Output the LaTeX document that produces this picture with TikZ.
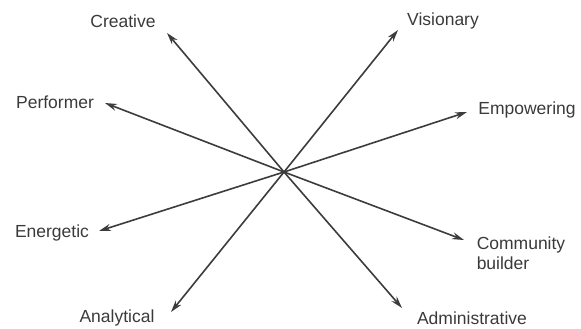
\documentclass[tikz,border=0pt]{standalone}
\usepackage{fontspec}
\setmainfont{Liberation Sans}
\usetikzlibrary{arrows.meta}

\begin{document}
\begin{tikzpicture}[
    x=1pt, y=-1pt,
    every node/.style={align=left, font=\fontsize{17.5}{20}\selectfont, text=labelcolor},
]

% Colors
\definecolor{labelcolor}{HTML}{3a3a3a}
\definecolor{linecolor}{HTML}{3c3c3c}

% Frame
\useasboundingbox (0,0) rectangle (581,329);

% Hub
\coordinate (hub) at (284, 172);

% Arrow tips
\coordinate (creativetip) at (167, 33);
\coordinate (performertip) at (105, 103);
\coordinate (energetictip) at (99, 231);
\coordinate (analyticaltip) at (171, 312);
\coordinate (visionarytip) at (398, 30);
\coordinate (empoweringtip) at (467, 112);
\coordinate (communitytip) at (464, 240);
\coordinate (admintip) at (402, 308);

% Labels
\node (creative) at (123, 21) {Creative};
\node (performer) at (55, 102) {Performer};
\node (energetic) at (52, 233) {Energetic};
\node (analytical) at (117, 318) {Analytical};
\node (visionary) at (443, 21) {Visionary};
\node (empowering) at (527, 110) {Empowering};
\node (community) at (521, 253) {Community\\builder};
\node (admin) at (472, 318) {Administrative};

% Arrows from the hub
\foreach \t in {creativetip, performertip, energetictip, analyticaltip,
                visionarytip, empoweringtip, communitytip, admintip} {
    \draw[-{Stealth[length=12pt, width=7pt]}, line width=1.6pt, color=linecolor]
        (hub) -- (\t);
}

\end{tikzpicture}
\end{document}
